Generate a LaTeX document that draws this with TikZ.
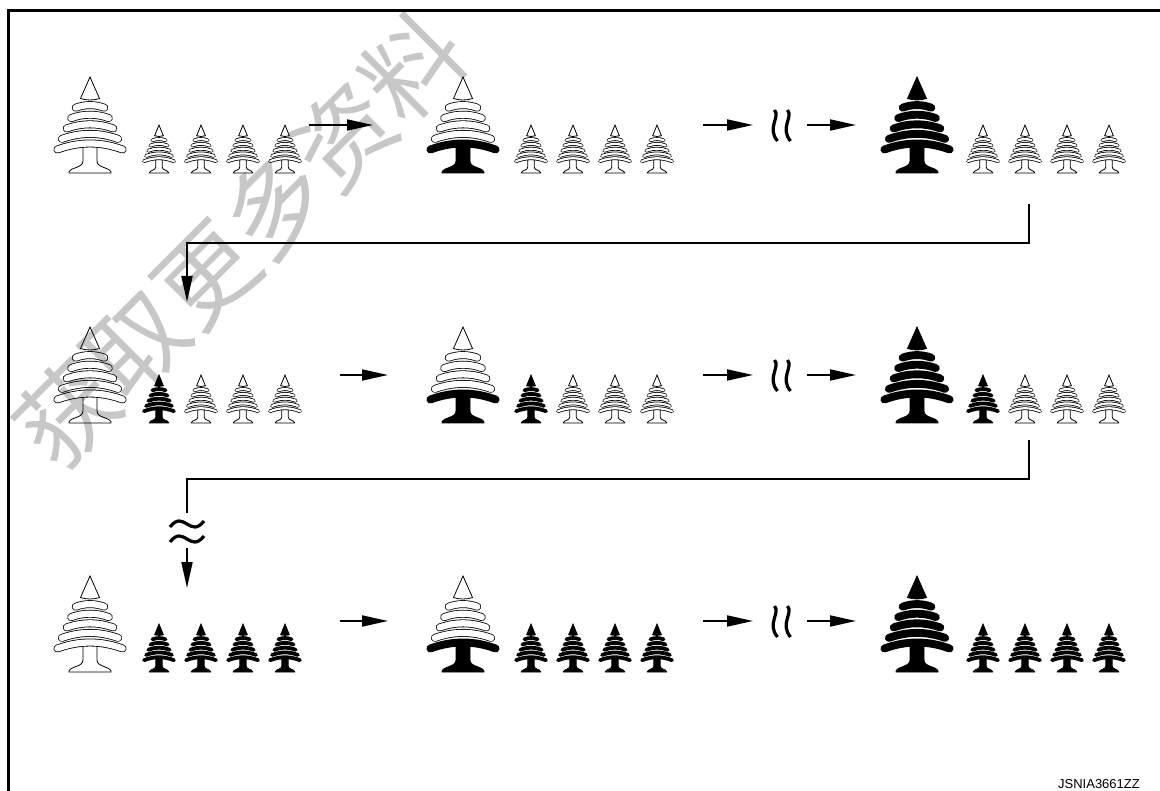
\documentclass[tikz,border=0pt]{standalone}
\usepackage{fontspec}
\usetikzlibrary{arrows.meta}
\newfontfamily\cjkfont{Noto Sans CJK SC}
\newfontfamily\tagfont{Liberation Sans}

% outline of every tree
\newcommand{\treeline}{0.8pt}

% one curved tier: colour, height, half span, droop
\newcommand{\tier}[4]{%
  \draw[line width=\tierw, line cap=round]
    (-#3,#2-#4) .. controls ({-#3/3},{#2+#4/3}) and ({#3/3},{#2+#4/3}) .. (#3,#2-#4);
  \draw[#1, line width=\tierw-2*\treeline, line cap=round]
    (-#3,#2-#4) .. controls ({-#3/3},{#2+#4/3}) and ({#3/3},{#2+#4/3}) .. (#3,#2-#4);}

% x, base y, xscale, yscale, tier width, crown colour, foot colour
\newcommand{\pinetree}[7]{%
  \begin{scope}[shift={(#1,#2)}, xscale=#3, yscale=-#4, line width=\treeline]
    \def\tierw{#5}
    \draw[fill=#7] (7,27) -- (7,12) .. controls (7,5) and (19,6) .. (21,1) -- (21,0)
      -- (-21,0) -- (-21,1) .. controls (-19,6) and (-7,5) .. (-7,12) -- (-7,27);
    \tier{#7}{29.5}{32.6}{6}
    \tier{#6}{39.1}{28.1}{5}
    \tier{#6}{48.7}{23.3}{4.2}
    \tier{#6}{58.3}{18.8}{3.4}
    \tier{#6}{67.9}{14.3}{2.6}
    \draw[fill=#6] (0,96) -- (9.5,74.5) .. controls (3.5,72.5) and (-3.5,72.5) .. (-9.5,74.5) -- cycle;
  \end{scope}}
\newcommand{\bigtree}[4]{\pinetree{#1}{#2}{1}{1}{7.9pt}{#3}{#4}}
\newcommand{\smalltree}[3]{\pinetree{#1}{#2}{0.46}{0.5}{3.8pt}{#3}{#3}}

% two wavy strokes for a pause
\newcommand{\breakmark}[2]{%
  \foreach \dx in {-6.5,6.5}
    \draw[wave] (#1+\dx,#2-16) .. controls (#1+\dx+6,#2-9) and (#1+\dx-8,#2+2) .. (#1+\dx+3,#2+15);}

\begin{document}
\begin{tikzpicture}[
  x=1pt, y=-1pt,
  frame/.style={line width=2.5pt},
  link/.style={line width=1.8pt},
  stepflow/.style={link, -{Triangle[length=26pt,width=11pt]}},
  wave/.style={line width=3.2pt},
  tag/.style={font=\tagfont\fontsize{13}{13}\selectfont, inner sep=0pt},
  watermark/.style={font=\cjkfont\fontsize{98}{98}\selectfont, text=black,
                    text opacity=0.22, rotate=45, inner sep=0pt}]

  \fill[white] (0,0) rectangle (1160,791);
  \useasboundingbox (0,0) rectangle (1160,791);

  \coordinate (fbl) at (8.7,791);
  \coordinate (ftl) at (8.7,10.5);
  \coordinate (ftr) at (1160,10.5);
  \draw[frame] (fbl) -- (ftl) -- (ftr);

  % --- first row
  \bigtree{90}{173}{white}{white}
  \foreach \k in {0,...,3} {\smalltree{159+42*\k}{173}{white}}
  \bigtree{463}{173}{white}{black}
  \foreach \k in {0,...,3} {\smalltree{531+42*\k}{173}{white}}
  \bigtree{917}{173}{black}{black}
  \foreach \k in {0,...,3} {\smalltree{983+42*\k}{173}{white}}

  % --- second row, one small tree done
  \bigtree{90}{423}{white}{white}
  \bigtree{463}{423}{white}{black}
  \bigtree{917}{423}{black}{black}
  \foreach \x in {159,531,983} {
    \smalltree{\x}{423}{black}
    \foreach \k in {1,2,3} {\smalltree{\x+42*\k}{423}{white}}
  }

  % --- third row, all small trees done
  \bigtree{90}{672}{white}{white}
  \bigtree{463}{672}{white}{black}
  \bigtree{917}{672}{black}{black}
  \foreach \x in {159,531,983}
    \foreach \k in {0,...,3} {\smalltree{\x+42*\k}{672}{black}}

  % --- steps inside a row
  \foreach \r/\ay/\ax/\bx in {1/125/309/373, 2/375/340/388, 3/621/340/388} {
    \coordinate (s\r a) at (\ax,\ay);
    \coordinate (s\r b) at (\bx,\ay);
    \coordinate (s\r c) at (703,\ay);
    \coordinate (s\r d) at (753,\ay);
    \coordinate (s\r e) at (807,\ay);
    \coordinate (s\r f) at (856,\ay);
    \draw[stepflow] (s\r a) -- (s\r b);
    \draw[stepflow] (s\r c) -- (s\r d);
    \draw[stepflow] (s\r e) -- (s\r f);
    \breakmark{781}{\ay+1}
  }

  % --- back to the start of the next row
  \coordinate (c1a) at (1029,204);
  \coordinate (c1b) at (187,243);
  \coordinate (c1c) at (187,302);
  \draw[stepflow] (c1a) |- (c1b) -- (c1c);

  \coordinate (c2a) at (1029,440);
  \coordinate (c2b) at (187,479);
  \coordinate (c2c) at (187,513);
  \coordinate (c2d) at (187,548);
  \coordinate (c2e) at (187,588);
  \draw[link] (c2a) |- (c2b) -- (c2c);
  \foreach \wy in {524,539}
    \draw[wave] (170,\wy+3) .. controls (177,\wy-6) and (182,\wy-3) .. (187,\wy)
      .. controls (192,\wy+3) and (197,\wy+6) .. (204,\wy-3);
  \draw[stepflow] (c2d) -- (c2e);

  \node[tag, anchor=base east] (code) at (1140,788) {JSNIA3661ZZ};
  \node[watermark] (wm) at (240,240) {获取更多资料};
\end{tikzpicture}
\end{document}
